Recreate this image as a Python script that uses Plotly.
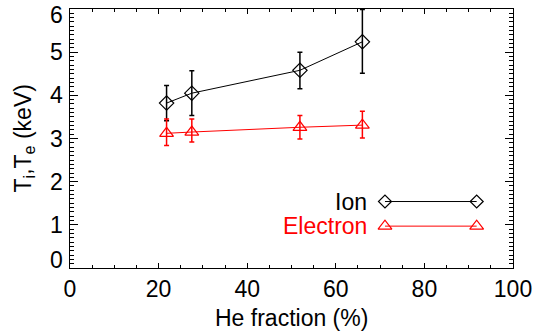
import plotly.graph_objects as go

# ---- data ----
he_fraction = [21.8, 27.5, 51.9, 66.0]
ion_temp = [3.82, 4.05, 4.58, 5.24]
ion_err_plus = [0.41, 0.52, 0.42, 0.75]
ion_err_minus = [0.41, 0.52, 0.43, 0.73]
electron_temp = [3.12, 3.15, 3.26, 3.31]
electron_err_plus = [0.33, 0.30, 0.27, 0.32]
electron_err_minus = [0.28, 0.23, 0.27, 0.30]

x_ticks = [0, 20, 40, 60, 80, 100]
y_ticks = [0, 1, 2, 3, 4, 5, 6]
y_tick_labels = ["0", "1", "2", "3", "4", "5", "6"]
legend_names = ["Ion", "Electron"]

FONT = "Liberation Sans, Arial, Helvetica, sans-serif"
FS = 23
RED = "#ff0000"

fig = go.Figure()

fig.add_trace(go.Scatter(
    x=he_fraction, y=ion_temp, mode="lines+markers",
    line=dict(color="black", width=1),
    marker=dict(symbol="diamond-open", size=11, color="black", line=dict(width=1.2)),
    error_y=dict(type="data", symmetric=False, array=ion_err_plus,
                 arrayminus=ion_err_minus, color="black", thickness=1.5, width=2.5),
    cliponaxis=True, showlegend=False,
))
fig.add_trace(go.Scatter(
    x=he_fraction, y=electron_temp, mode="lines+markers",
    line=dict(color=RED, width=1),
    marker=dict(symbol="triangle-up-open", size=12, color=RED, line=dict(width=1.2)),
    error_y=dict(type="data", symmetric=False, array=electron_err_plus,
                 arrayminus=electron_err_minus, color=RED, thickness=1.5, width=2.5),
    showlegend=False,
))

# legend keys drawn inside the plot (IDL style)
leg_x = [71.1, 91.8]
leg_y = [1.54, 0.97]
fig.add_trace(go.Scatter(
    x=leg_x, y=[leg_y[0]] * 2, mode="lines+markers",
    line=dict(color="black", width=1),
    marker=dict(symbol="diamond-open", size=10, color="black", line=dict(width=1.2)),
    showlegend=False, hoverinfo="skip",
))
fig.add_trace(go.Scatter(
    x=leg_x, y=[leg_y[1]] * 2, mode="lines+markers",
    line=dict(color=RED, width=1),
    marker=dict(symbol="triangle-up-open", size=12, color=RED, line=dict(width=1.2)),
    showlegend=False, hoverinfo="skip",
))

annotations = []
for name, yv, col in zip(legend_names, leg_y, ["black", RED]):
    annotations.append(dict(
        x=67.5, y=yv, xref="x", yref="y", text=name, showarrow=False,
        xanchor="right", yanchor="middle", font=dict(family=FONT, size=FS, color=col),
    ))

# y tick labels (IDL shifts the end labels inward)
for v, lab in zip(y_ticks, y_tick_labels):
    shift = 0
    if v == y_ticks[0]:
        shift = 8
    elif v == y_ticks[-1]:
        shift = -6
    annotations.append(dict(
        x=0, y=v, xref="paper", yref="y", text=lab, showarrow=False,
        xanchor="right", yanchor="middle", xshift=-5, yshift=shift,
        font=dict(family=FONT, size=FS, color="black"),
    ))

annotations.append(dict(
    x=0.5, y=0, xref="paper", yref="paper", text="He fraction (%)", showarrow=False,
    xanchor="center", yanchor="middle", yshift=-50,
    font=dict(family=FONT, size=FS, color="black"),
))
annotations.append(dict(
    x=0, y=0.5, xref="paper", yref="paper",
    text="T<sub>i</sub>,T<sub>e</sub> (keV)", showarrow=False, textangle=-90,
    xanchor="center", yanchor="middle", xshift=-46,
    font=dict(family=FONT, size=FS, color="black"),
))

axis_common = dict(
    showline=True, linecolor="black", linewidth=1, mirror="ticks",
    ticks="inside", tickcolor="black", showgrid=False, zeroline=False,
)

fig.update_layout(
    width=541, height=331,
    margin=dict(l=70, r=28, t=9, b=63),
    paper_bgcolor="white", plot_bgcolor="white",
    font=dict(family=FONT, size=FS, color="black"),
    xaxis=dict(
        range=[0, 100], tickvals=x_ticks, ticklen=5, tickwidth=1,
        tickfont=dict(family=FONT, size=FS),
        minor=dict(dtick=5, ticklen=3, tickcolor="black", ticks="inside", tickwidth=1),
        **axis_common,
    ),
    yaxis=dict(
        range=[0, 6], tickvals=y_ticks, ticklen=8, tickwidth=1,
        showticklabels=False,
        minor=dict(dtick=0.1, ticklen=4, tickcolor="black", ticks="inside", tickwidth=1),
        **axis_common,
    ),
    annotations=annotations,
)

fig.write_html("out.html")
